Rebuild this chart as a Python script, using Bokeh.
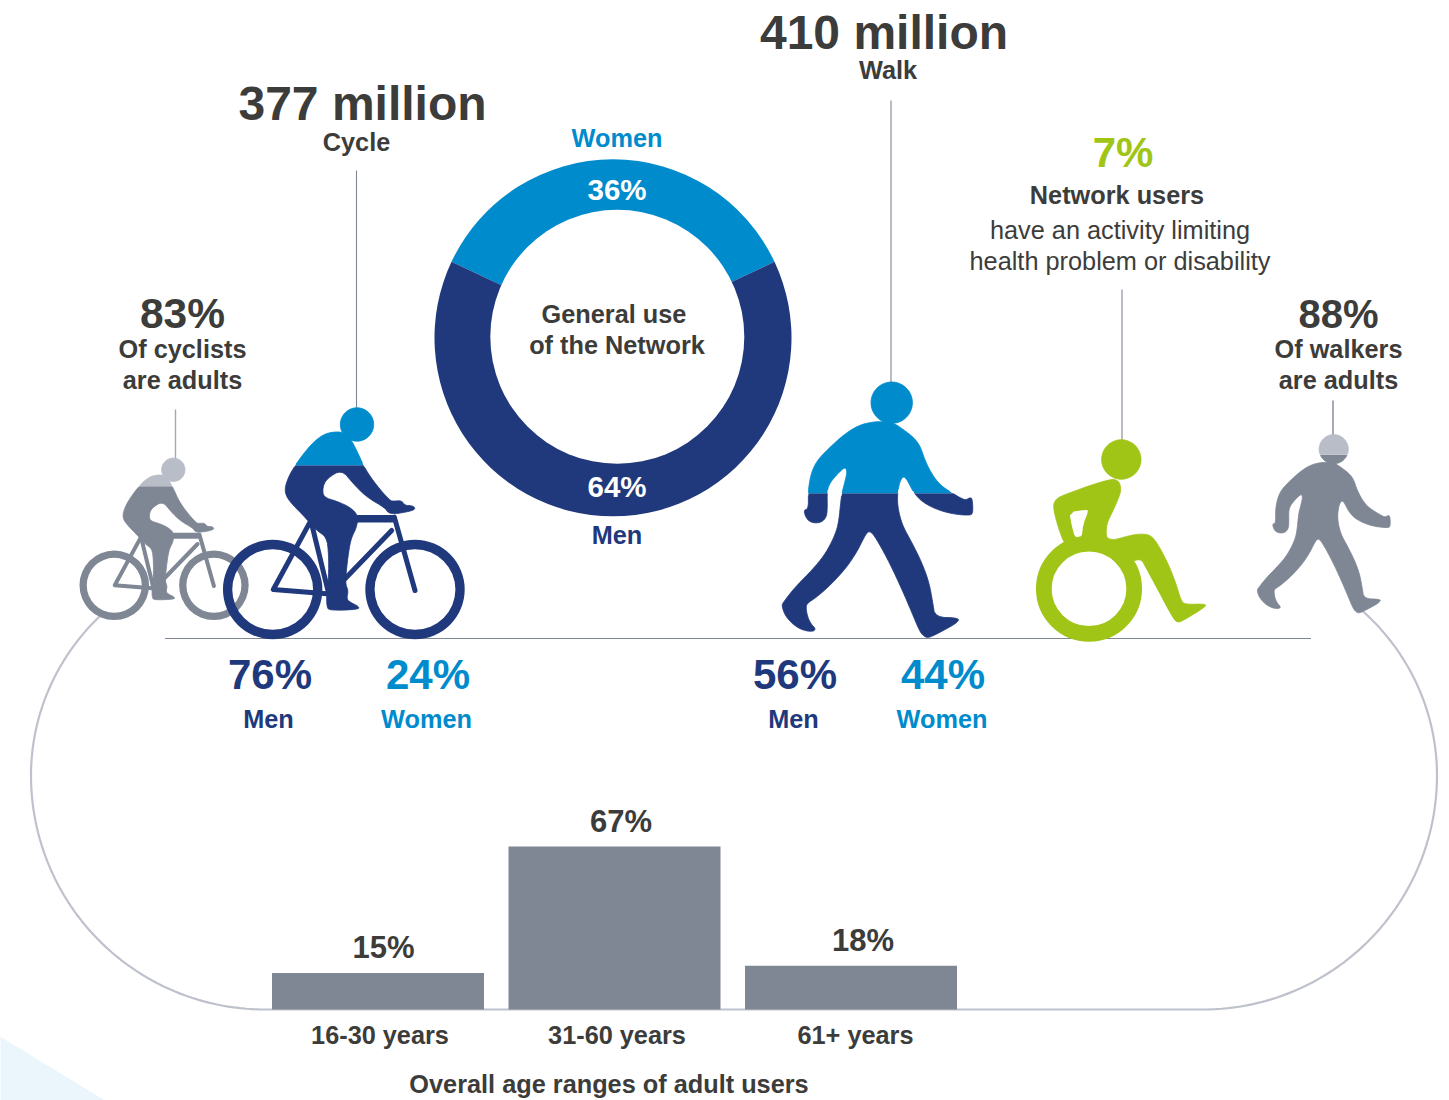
import numpy as np
from bokeh.plotting import figure
from bokeh.models import Range1d
from bokeh.core.properties import value
from bokeh.embed import file_html
from bokeh.resources import INLINE

# ---------- data ----------
age_labels = ["16-30 years", "31-60 years", "61+ years"]
age_shares = [15, 67, 18]
age_share_labels = ["15%", "67%", "18%"]
general_labels = ["Women", "Men"]
general_shares = [36, 64]
cycle_gender_labels = ["Men", "Women"]
cycle_gender_shares = ["76%", "24%"]
walk_gender_labels = ["Men", "Women"]
walk_gender_shares = ["56%", "44%"]
cycle_total = "377 million"
walk_total = "410 million"
cycle_adults = "83%"
walk_adults = "88%"
disability_share = "7%"

# ---------- palette ----------
NAVY, BLUE, GREEN = "#20397c", "#008bcc", "#a0c516"
GRAY, LIGHT, INK = "#7f8795", "#b9bdc7", "#3c3c3b"
TRACK, WASH = "#bfc2cc", "#eaf5fc"

W, H = 1449, 1100
SHIFT = 0.5
p = figure(width=W, height=H, x_range=Range1d(SHIFT, W + SHIFT), y_range=Range1d(H, 0),
           x_axis_location=None, y_axis_location=None, toolbar_location=None,
           output_backend="svg", min_border=0, outline_line_color=None,
           background_fill_color="white")
p.grid.visible = False
# percentage scale for the bars: 0% sits on the track bottom, 2.433 px per point
PX_PER_PCT, BAR_BASE = 2.433, 1009
p.extra_y_ranges = {"pct": Range1d((BAR_BASE - H) / PX_PER_PCT, BAR_BASE / PX_PER_PCT)}


def T(x, y, s, size, color=INK, bold=True):
    p.text([x], [y - 1.3], text=[s], text_font=value("Liberation Sans"),
           text_font_size=f"{size}px", text_color=color,
           text_font_style="bold" if bold else "normal",
           text_align="center", text_baseline="middle")


def smooth(pts, n=2):
    a = np.asarray(pts, float)
    for _ in range(n):
        b = np.roll(a, -1, axis=0)
        a = np.column_stack([0.75 * a + 0.25 * b, 0.25 * a + 0.75 * b]).reshape(-1, 2)
    return a


def clip(poly, level, keep_above):
    out = []
    inside = (lambda q: q[1] <= level) if keep_above else (lambda q: q[1] >= level)
    for i in range(len(poly)):
        c, d = poly[i], poly[(i + 1) % len(poly)]
        if inside(c):
            out.append(c)
        if inside(c) != inside(d):
            t = (level - c[1]) / (d[1] - c[1])
            out.append(c + t * (d - c))
    return np.array(out)


def fill(poly, color, edge=0.8):
    if len(poly):
        p.patch(poly[:, 0], poly[:, 1], fill_color=color,
                line_color=color if edge else None, line_width=edge or 1)


def split(poly, level, top, bottom):
    fill(clip(poly, level, False), bottom, edge=0)
    fill(clip(poly, level, True), top, edge=0)
    # outline drawn only along the real contour, so it never crosses the gaps at the colour change
    ring = np.vstack([poly, poly[:1]])
    for color, mask in [(bottom, ring[:, 1] >= level), (top, ring[:, 1] <= level)]:
        p.line(ring[:, 0], np.where(mask, ring[:, 1], np.nan), line_color=color, line_width=0.8)


def disc(cx, cy, r):
    t = np.linspace(0, 2 * np.pi, 72, endpoint=False)
    return np.column_stack([cx + r * np.cos(t), cy + r * np.sin(t)])


# ---------- backdrop ----------
p.patch([0, 105, 0], [1036, 1100, 1100], fill_color=WASH, line_color=None)
L, R, CY, RX, RY_TOP, RY_BOT = 265, 1203, 775, 234, 225, 234
tl = np.radians(np.linspace(135, 270, 90))
tr = np.radians(np.linspace(-90, 47, 90))
tx = np.r_[L + RX * np.cos(tl), R + RX * np.cos(tr)]
st = np.r_[np.sin(tl), np.sin(tr)]
ty = CY - st * np.where(st > 0, RY_TOP, RY_BOT)
p.line(tx, ty, line_color=TRACK, line_width=2.2)
p.line([165, 1311], [638, 638], line_color=GRAY, line_width=1.2)

# ---------- leader lines ----------
p.line([356.5, 356.5], [170, 410], line_color=GRAY, line_width=1.1)
p.line([175.5, 175.5], [409, 460], line_color="#a3a8b3", line_width=1.4)
p.line([891, 891], [100, 384], line_color=GRAY, line_width=1.1)
p.line([1122, 1122], [289, 442], line_color=GRAY, line_width=1.1)
p.line([1333, 1333], [400, 436], line_color=GRAY, line_width=1.4)

# ---------- walker icons (outline traced on a 3x crop) ----------
WALK = [(312,138),(290,140),(262,146),(232,160),(200,183),(165,215),(135,245),(118,270),(107,300),(101,335),
        (100,352),(100,400),(87,403),(90,420),(100,436),(118,443),(140,440),(154,425),(157,400),(156,345),
        (165,322),(183,300),(205,278),(213,278),(216,292),(208,325),(200,355),(195,400),(192,430),(185,465),
        (165,510),(140,550),(100,595),(60,635),(25,680),(20,690),(30,720),(55,748),(85,765),(115,768),
        (122,760),(108,745),(98,725),(93,700),(95,684),(125,665),(170,625),(215,575),(245,530),(265,490),
        (278,468),(290,470),(310,500),(345,565),(380,640),(410,710),(435,770),(450,785),(462,786),(480,778),
        (520,757),(548,740),(552,727),(480,725),(473,680),(462,620),(440,560),(410,500),(385,455),(372,415),
        (366,370),(372,325),(382,305),(390,305),(400,320),(415,350),(440,378),(480,400),(530,415),(585,420),
        (594,412),(592,370),(585,366),(575,372),(565,372),(530,352),(495,328),(470,295),(450,255),(435,210),
        (415,185),(385,162),(360,145),(340,140)]
walk = smooth(WALK, 2)


def walker(hx, hy, hr, k, level, top, bottom):
    body = np.column_stack([hx + k * (walk[:, 0] - 350) / 3, hy + k * (walk[:, 1] - 81.5) / 3])
    split(body, level, top, bottom)
    split(disc(hx, hy, hr), level, top, bottom)


walker(891.7, 402.2, 20.7, 1.0, 492.7, BLUE, NAVY)
walker(1333.7, 448.7, 14.6, 0.697, 454.3, LIGHT, GRAY)

# ---------- wheelchair icon ----------
CHAIR = [(262,145),(200,163),(140,185),(105,198),(88,212),(85,232),(95,275),(110,320),(120,340),(200,335),
         (300,370),(328,392),(335,388),(350,388),(362,410),(400,480),(445,565),(458,576),(475,570),(540,530),
         (543,520),(480,522),(468,510),(450,450),(425,390),(395,335),(375,313),(345,310),(310,316),(270,328),
         (250,325),(243,315),(245,280),(262,245),(280,205),(288,180),(285,160),(278,150)]
HOLE = [(133,245),(185,237),(190,243),(175,280),(170,322),(150,322),(140,285)]


def zchair(a):
    a = np.asarray(a, float)
    return np.column_stack([1025 + a[:, 0] / 3, 430 + a[:, 1] / 3])


fill(zchair(smooth(CHAIR, 2)), GREEN)
fill(zchair(smooth(HOLE, 1)), "white", edge=0)
fill(disc(1121.3, 459, 19.7), GREEN)
p.circle([1089], [588.3], radius=45.2, fill_color=None, line_color=GREEN, line_width=15.7)

# ---------- cyclist icons ----------
RIDER = [(850,125),(820,124),(790,132),(760,155),(730,190),(705,225),(685,260),(674,295),(680,320),(700,345),
         (725,370),(745,392),(770,420),(800,440),(806,490),(806,560),(800,600),(800,650),(810,660),(895,657),
         (897,648),(870,635),(860,625),(865,600),(856,580),(860,530),(868,470),(875,440),(890,410),(895,375),
         (870,350),(830,332),(790,320),(788,290),(800,265),(845,237),(880,280),(920,320),(975,352),(985,368),
         (1010,370),(1060,360),(1066,352),(1055,345),(1035,345),(1025,330),(1000,332),(990,330),(950,285),
         (915,235),(895,190),(875,150),(870,148)]
FRAME = [[(750,395),(640,597),(800,610)], [(755,400),(805,605)], [(995,420),(850,570)],
         [(890,385),(1000,385)], [(1003,380),(1065,600)]]
rider = smooth(RIDER, 2)


def cyclist(hx, hy, k, level, head, top, bottom, ring, bar):
    """hx, hy: head centre in px; k: scale against the 3x tracing; ring, bar: stroke widths."""
    def m(a):
        a = np.asarray(a, float)
        return np.column_stack([hx + k * (a[:, 0] - 891) / 3, hy + k * (a[:, 1] - 102) / 3])
    for wheel in [(638, 597), (1065, 597)]:
        c = m([wheel])[0]
        p.annulus([c[0]], [c[1]], inner_radius=49.7 * k - ring, outer_radius=49.7 * k,
                  fill_color=bottom, line_color=None)
    for seg in FRAME:
        s = m(seg)
        p.line(s[:, 0], s[:, 1], line_color=bottom, line_width=bar, line_cap="round", line_join="round")
    top_bar = m(FRAME[3])
    p.line(top_bar[:, 0], top_bar[:, 1], line_color=bottom, line_width=bar * 1.5)
    split(m(rider), level, top, bottom)
    fill(disc(hx, hy, 16.7 * k), head)


cyclist(173.3, 469.3, 0.7, 485.7, LIGHT, LIGHT, GRAY, 7.3, 4.0)
cyclist(357, 424, 1.0, 464.7, BLUE, BLUE, NAVY, 9.3, 5.0)

# ---------- donut ----------
DONUT_X, DONUT_Y, DONUT_R = 613, 337.3, 178.5
women, men = general_shares
half = women / sum(general_shares) * np.pi
p.wedge([DONUT_X], [DONUT_Y], radius=DONUT_R, start_angle=np.pi / 2 - half, end_angle=np.pi / 2 + half,
        direction="anticlock", fill_color=BLUE, line_color=None)
p.wedge([DONUT_X], [DONUT_Y], radius=DONUT_R, start_angle=np.pi / 2 + half, end_angle=np.pi / 2 - half,
        direction="anticlock", fill_color=NAVY, line_color=None)
p.circle([617.3], [336.3], radius=127, fill_color="white", line_color=None)

S = 25.3
T(617, 139, general_labels[0], S, BLUE)
T(617, 190, f"{general_shares[0]}%", 29.5, "white")
T(617, 487, f"{general_shares[1]}%", 29.5, "white")
T(617, 536, general_labels[1], S, NAVY)
T(614, 315, "General use", S)
T(617, 346, "of the Network", S)

# ---------- headline texts ----------
T(362.5, 104, cycle_total, 48)
T(356.5, 143, "Cycle", S)
T(884, 33, walk_total, 48)
T(888, 71, "Walk", S)
T(1123, 153, disability_share, 42, GREEN)
T(1117, 196, "Network users", S)
T(1120, 231, "have an activity limiting", S, bold=False)
T(1120, 262, "health problem or disability", S, bold=False)
T(182.5, 314, cycle_adults, 42.5)
T(182.5, 350, "Of cyclists", S)
T(182.5, 381, "are adults", S)
T(1338.5, 315, walk_adults, 40)
T(1338.5, 350, "Of walkers", S)
T(1338.5, 381, "are adults", S)

# ---------- gender splits ----------
for cx, lx, s, lab, col in [(270, 268.5, cycle_gender_shares[0], cycle_gender_labels[0], NAVY),
                            (428, 426.5, cycle_gender_shares[1], cycle_gender_labels[1], BLUE),
                            (795, 793.5, walk_gender_shares[0], walk_gender_labels[0], NAVY),
                            (943, 942, walk_gender_shares[1], walk_gender_labels[1], BLUE)]:
    T(cx, 675, s, 42, col)
    T(lx, 720, lab, S, col)

# ---------- age bars ----------
BAR_FIRST, BAR_STEP, BAR_W = 378, 236.5, 212
centers = [BAR_FIRST + i * BAR_STEP for i in range(len(age_shares))]
p.vbar(x=centers, width=BAR_W, bottom=0, top=age_shares, y_range_name="pct",
       fill_color=GRAY, line_color=None)
for (lx, ly), s in zip([(383.5, 948), (621, 822), (863, 941)], age_share_labels):
    T(lx, ly, s, 31)
for lx, s in zip([380, 617, 855.5], age_labels):
    T(lx, 1036, s, S)
T(609, 1085, "Overall age ranges of adult users", S)

open("out.html", "w").write(file_html(p, INLINE))
